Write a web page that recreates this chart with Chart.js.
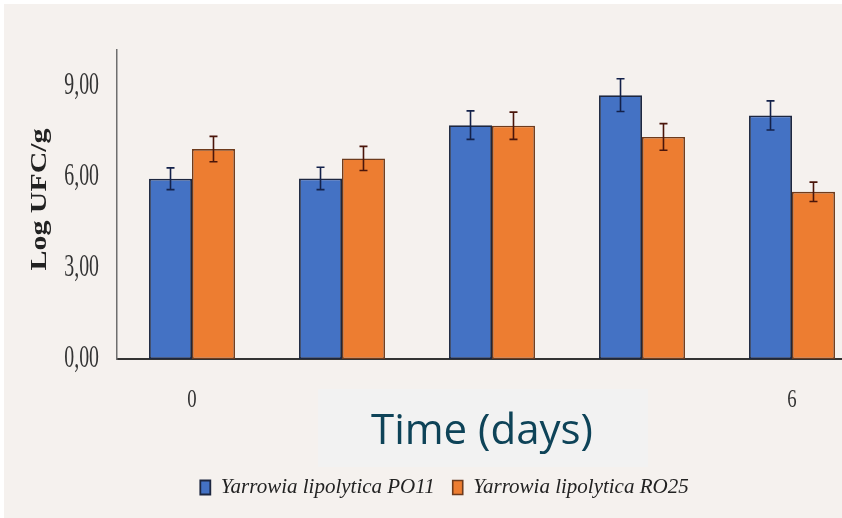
<!DOCTYPE html>
<html>
<head>
<meta charset="utf-8">
<script src="https://cdn.jsdelivr.net/npm/chart.js@4/dist/chart.umd.min.js"></script>
<style>
  html, body { margin: 0; padding: 0; width: 842px; height: 518px; overflow: hidden; background: #ffffff; }
  #wrap { position: absolute; left: 4px; top: 4px; width: 863px; height: 514px; }
  canvas { display: block; }
</style>
</head>
<body>
<div id="wrap"><canvas id="c" width="863" height="514"></canvas></div>
<script>
// Sampling days
const days = ['0', '1', '2', '3', '6'];

// Mean counts (log UFC/g) and their standard deviations
const po11Values = [5.95, 5.96, 7.72, 8.71, 8.04];
const po11Errors = [0.36, 0.37, 0.47, 0.54, 0.48];
const ro25Values = [6.93, 6.62, 7.70, 7.33, 5.52];
const ro25Errors = [0.42, 0.40, 0.45, 0.44, 0.32];

// Series names
const seriesNames = ['Yarrowia lipolytica PO11', 'Yarrowia lipolytica RO25'];

// Value axis ticks
const yTickValues = [0, 3, 6, 9];
const yTickLabels = ['0,00', '3,00', '6,00', '9,00'];

const AXIS_TITLE_X = 'Time (days)';
const AXIS_TITLE_Y = 'Log UFC/g';

const SERIF = "'Liberation Serif', 'Times New Roman', Times, 'DejaVu Serif', serif";

// Horizontal squeeze/stretch applied to axis texts
function wrapText(scale, method, sx, dx) {
  const key = '_wrapped_' + method;
  if (scale[key]) return;
  scale[key] = true;
  const orig = scale[method];
  scale[method] = function (...args) {
    const ctx = this.ctx;
    const fill = ctx.fillText;
    ctx.fillText = function (t, px, py, mw) {
      this.save();
      this.scale(sx, 1);
      if (mw === undefined) fill.call(this, t, (px + dx) / sx, py);
      else fill.call(this, t, (px + dx) / sx, py, mw / sx);
      this.restore();
    };
    try { return orig.apply(this, args); } finally { delete ctx.fillText; }
  };
}

const axisText = {
  id: 'axisText',
  afterUpdate(chart) {
    wrapText(chart.scales.y, 'drawLabels', 0.64, 0);
    wrapText(chart.scales.y, 'drawTitle', 1.3, 5);
    wrapText(chart.scales.x, 'drawLabels', 0.75, 0);
  }
};

const background = {
  id: 'background',
  beforeDraw(chart) {
    const ctx = chart.ctx;
    ctx.save();
    ctx.fillStyle = '#f5f1ee';
    ctx.fillRect(0, 0, chart.width, chart.height);
    ctx.restore();
  }
};

// Error bars from the bar elements and the value scale
const errorBars = {
  id: 'errorBars',
  afterDatasetsDraw(chart) {
    const ctx = chart.ctx;
    const yScale = chart.scales.y;
    chart.data.datasets.forEach((ds, i) => {
      const meta = chart.getDatasetMeta(i);
      meta.data.forEach((bar, j) => {
        const v = ds.data[j], e = ds.errors[j];
        const yTop = yScale.getPixelForValue(v + e);
        const yBot = yScale.getPixelForValue(v - e);
        const x = bar.x;
        ctx.save();
        ctx.strokeStyle = ds.errorColor;
        ctx.lineWidth = 1.6;
        ctx.beginPath();
        ctx.moveTo(x, yTop); ctx.lineTo(x, yBot);
        ctx.moveTo(x - 4, yTop); ctx.lineTo(x + 4, yTop);
        ctx.moveTo(x - 4, yBot); ctx.lineTo(x + 4, yBot);
        ctx.stroke();
        ctx.restore();
      });
    });
  }
};

// Category axis caption panel
const xCaption = {
  id: 'xCaption',
  afterDraw(chart) {
    const ctx = chart.ctx;
    ctx.save();
    ctx.fillStyle = '#f2f2f2';
    ctx.fillRect(314, 385, 330, 78);
    ctx.fillStyle = '#0e4358';
    ctx.font = "42px 'Open Sans'";
    ctx.textAlign = 'left';
    ctx.textBaseline = 'alphabetic';
    ctx.fillText(AXIS_TITLE_X, 367, 440, 222);
    ctx.restore();
  }
};

new Chart(document.getElementById('c'), {
  type: 'bar',
  data: {
    labels: days,
    datasets: [
      {
        label: seriesNames[0],
        data: po11Values,
        errors: po11Errors,
        errorColor: '#13214a',
        backgroundColor: '#4472c4',
        borderColor: '#1d2740',
        borderWidth: 1.8,
        borderSkipped: false
      },
      {
        label: seriesNames[1],
        data: ro25Values,
        errors: ro25Errors,
        errorColor: '#4a150a',
        backgroundColor: '#ed7d31',
        borderColor: '#6e3b1c',
        borderWidth: 1.6,
        borderSkipped: false
      }
    ]
  },
  options: {
    responsive: false,
    animation: false,
    devicePixelRatio: 1,
    layout: { padding: { left: 18, top: 46, right: 0, bottom: 10 } },
    datasets: { bar: { categoryPercentage: 0.573, barPercentage: 1.0 } },
    plugins: {
      tooltip: { enabled: false },
      legend: {
        position: 'bottom',
        labels: {
          boxWidth: 10,
          boxHeight: 14,
          padding: 18,
          color: '#222222',
          font: { family: SERIF, size: 21, style: 'italic' }
        }
      }
    },
    scales: {
      x: {
        grid: { display: false, drawTicks: false },
        border: { display: true, color: '#333333', width: 2 },
        ticks: {
          padding: 26,
          color: '#333333',
          font: { family: SERIF, size: 25 }
        },
        afterFit(s) { s.height = 100; }
      },
      y: {
        min: 0,
        max: 10.2,
        grid: { display: false, drawTicks: false },
        border: { display: true, color: '#6e6e6e', width: 1.5 },
        afterBuildTicks(s) { s.ticks = yTickValues.map(v => ({ value: v })); },
        ticks: {
          padding: 18,
          color: '#333333',
          font: { family: SERIF, size: 31 },
          callback(v) { return yTickLabels[yTickValues.indexOf(v)]; }
        },
        title: {
          display: true,
          text: AXIS_TITLE_Y,
          color: '#222222',
          padding: { top: 4, bottom: 4 },
          font: { family: SERIF, size: 23, weight: 'bold' }
        },
        afterFit(s) { s.width = 95; }
      }
    }
  },
  plugins: [background, axisText, errorBars, xCaption]
});
</script>
</body>
</html>
